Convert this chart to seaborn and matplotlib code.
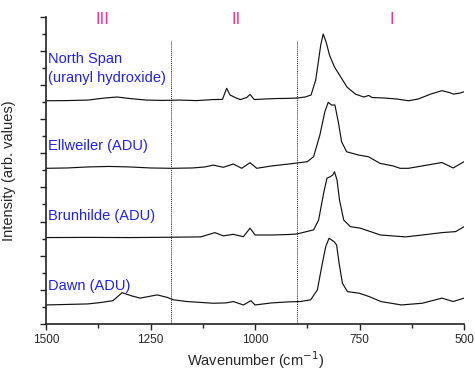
import numpy as np
import pandas as pd
import matplotlib
matplotlib.use("Agg")
import matplotlib.pyplot as plt
from matplotlib.ticker import MultipleLocator
import seaborn as sns

# spectra (wavenumber in cm-1, offset intensity)
north_w = [1500, 1450, 1400, 1360, 1330, 1300, 1260, 1220, 1180, 1140, 1100, 1078, 1068, 1060,
           1045, 1035, 1020, 1012, 1002, 980, 950, 920, 900, 880, 866, 855, 848, 843, 837, 830,
           822, 810, 795, 780, 760, 740, 728, 720, 690, 660, 633, 610, 580, 553, 535, 525, 510, 500]
north_v = [13.08, 13.09, 13.12, 13.24, 13.30, 13.21, 13.12, 13.10, 13.12, 13.09, 13.15, 13.16, 13.81, 13.42,
           13.24, 13.15, 13.27, 13.45, 13.15, 13.18, 13.21, 13.22, 13.24, 13.30, 13.42, 14.29, 15.47, 16.34, 16.99, 16.52,
           15.76, 15.06, 14.47, 13.88, 13.47, 13.30, 13.39, 13.27, 13.24, 13.18, 13.08, 13.18, 13.47, 13.67, 13.56, 13.47, 13.53, 13.61]

ell_w = [1500, 1450, 1400, 1350, 1300, 1250, 1200, 1150, 1120, 1100, 1076, 1052, 1032, 1012, 996,
         960, 920, 900, 875, 860, 845, 833, 825, 817, 809, 801, 793, 781, 753, 729, 701, 670,
         653, 633, 600, 553, 526, 500]
ell_v = [9.12, 9.14, 9.20, 9.23, 9.20, 9.14, 9.12, 9.14, 9.20, 9.31, 9.18, 9.37, 9.12, 9.45, 9.12,
         9.26, 9.37, 9.43, 9.51, 9.80, 11.07, 12.44, 12.99, 12.83, 12.83, 11.85, 10.68, 10.09, 9.90, 9.80, 9.41, 9.26,
         9.12, 9.12, 9.26, 9.46, 9.14, 9.51]

brun_w = [1500, 1400, 1300, 1200, 1130, 1096, 1076, 1052, 1028, 1012, 1000, 960, 920, 900, 860,
          848, 836, 828, 820, 814, 810, 804, 798, 788, 772, 748, 724, 700, 640, 600, 553, 520, 500]
brun_v = [5.06, 5.07, 5.06, 5.08, 5.10, 5.35, 5.16, 5.25, 5.11, 5.61, 5.21, 5.21, 5.24, 5.27, 5.51,
          6.09, 7.66, 8.54, 8.63, 8.73, 8.92, 8.44, 7.26, 6.09, 5.70, 5.61, 5.41, 5.21, 5.10, 5.21, 5.35, 5.41, 5.70]

dawn_w = [1500, 1450, 1400, 1370, 1340, 1318, 1295, 1275, 1234, 1210, 1195, 1163, 1100, 1070, 1052,
          1028, 1010, 1000, 960, 920, 892, 867, 851, 839, 831, 823, 811, 805, 799, 791, 779, 751,
          727, 699, 650, 620, 600, 553, 526, 500]
dawn_v = [1.11, 1.14, 1.17, 1.25, 1.36, 1.83, 1.64, 1.51, 1.70, 1.55, 1.41, 1.31, 1.21, 1.23, 1.31,
          1.11, 1.36, 1.11, 1.23, 1.29, 1.31, 1.41, 1.99, 3.56, 4.53, 5.02, 4.82, 4.63, 3.56, 2.38, 1.89, 1.80,
          1.60, 1.31, 1.11, 1.17, 1.21, 1.51, 1.31, 1.51]

samples = ["North Span", "Ellweiler", "Brunhilde", "Dawn"]
label_text = ["North Span", "Ellweiler (ADU)", "Brunhilde (ADU)", "Dawn (ADU)"]
label_y = [15.3, 10.2, 6.1, 2.0]
region_names = ["III", "II", "I"]
region_x = [1364, 1045, 673]
divider_x = [1200, 900]

frames = []
for name, w, v in zip(samples, [north_w, ell_w, brun_w, dawn_w], [north_v, ell_v, brun_v, dawn_v]):
    frames.append(pd.DataFrame({"wavenumber": w, "intensity": v, "sample": name}))
df = pd.concat(frames, ignore_index=True)

sns.set_style("ticks")
plt.rcParams["font.family"] = ["Liberation Sans", "DejaVu Sans"]

fig = plt.figure(figsize=(4.75, 3.74), dpi=100)
ax = fig.add_axes([0.097, 0.134, 0.88, 0.821])

sns.lineplot(data=df, x="wavenumber", y="intensity", hue="sample", units="sample",
             estimator=None, sort=False, palette=["#111111"] * 4, legend=False,
             linewidth=0.85, ax=ax)

for xv in divider_x:
    ax.plot([xv, xv], [0, 16.67], color="#222222", lw=0.7, ls=(0, (1, 1)))

for txt, yv in zip(label_text, label_y):
    ax.text(1495, yv, txt, color="#1f1fee", fontsize=10.5, va="baseline", ha="left")
ax.text(1495, 14.2, "(uranyl hydroxide)", color="#1f1fee", fontsize=10.5, va="baseline", ha="left")

for txt, xv in zip(region_names, region_x):
    ax.text(xv, 17.85, txt, color="#ff2d8a", fontsize=12, va="center", ha="center")

ax.set_xlim(1500, 500)
ax.set_ylim(0, 18)
ax.xaxis.set_major_locator(MultipleLocator(250))
ax.xaxis.set_minor_locator(MultipleLocator(125))
ax.yaxis.set_major_locator(MultipleLocator(2))
ax.yaxis.set_minor_locator(MultipleLocator(1))
ax.set_yticklabels([])
ax.tick_params(axis="both", which="major", length=4, width=1, direction="out", labelsize=8.5, color="#222222")
ax.tick_params(axis="both", which="minor", length=3, width=1, direction="out", color="#222222")
ax.set_xlabel("Wavenumber (cm$^{-1}$)", fontsize=10.5, labelpad=2)
ax.set_ylabel("Intensity (arb. values)", fontsize=10.5, labelpad=14)
sns.despine(ax=ax)
for s in ["left", "bottom"]:
    ax.spines[s].set_linewidth(1.2)
    ax.spines[s].set_color("#222222")

fig.savefig("out.png", dpi=100)
